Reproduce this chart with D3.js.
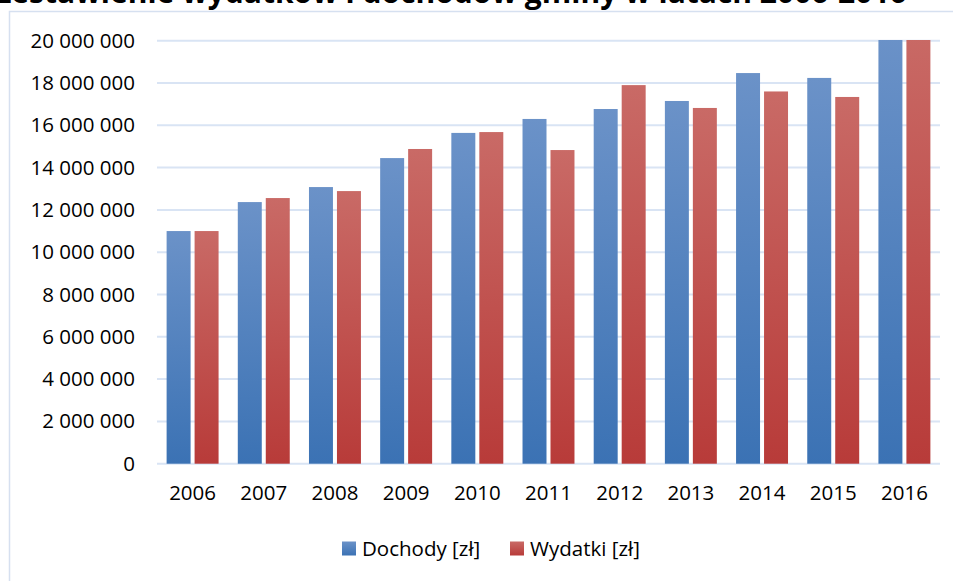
<!DOCTYPE html>
<html>
<head>
<meta charset="utf-8">
<script src="https://cdn.jsdelivr.net/npm/d3@7"></script>
<style>
  body { margin: 0; background: #fff; }
  svg { display: block; font-family: "Open Sans", sans-serif; }
</style>
</head>
<body>
<svg id="chart" width="953" height="581"></svg>
<script>
// chart data
const years = ["2006", "2007", "2008", "2009", "2010", "2011", "2012", "2013", "2014", "2015", "2016"];
const dochody = [11000000, 12370000, 13080000, 14450000, 15640000, 16300000, 16770000, 17150000, 18470000, 18240000, 20400000];
const wydatki = [11000000, 12560000, 12890000, 14880000, 15680000, 14830000, 17900000, 16820000, 17600000, 17340000, 20600000];
const seriesNames = ["Dochody [zł]", "Wydatki [zł]"];
const yTicks = [0, 2000000, 4000000, 6000000, 8000000, 10000000, 12000000, 14000000, 16000000, 18000000, 20000000];
const titleText = "Zestawienie wydatków i dochodów gminy w latach 2006-2016";

const svg = d3.select("#chart");
const W = 953, H = 581;
const plot = {left: 157, right: 940, top: 40.7, bottom: 463.7};

// light frame of the chart area
svg.append("path")
    .attr("d", `M9.5,${H + 2} V11.5 H${W + 2}`)
    .attr("fill", "none")
    .attr("stroke", "#d6e0f0")
    .attr("stroke-width", 1.5);

// title, cut off by the top of the picture
svg.append("text")
    .attr("x", -6)
    .attr("y", 2.5)
    .attr("font-size", 30)
    .attr("font-weight", "bold")
    .attr("fill", "#000")
    .text(titleText);

const x0 = d3.scaleBand().domain(years).range([plot.left, plot.right]).paddingInner(0.27).paddingOuter(0.135);
const x1 = d3.scaleBand().domain(seriesNames).range([0, x0.bandwidth()]).paddingInner(0.143);
const y = d3.scaleLinear().domain([0, 20000000]).range([plot.bottom, plot.top]);

const fmt = d3.formatLocale({decimal: ",", thousands: " ", grouping: [3], currency: ["", " zł"]}).format(",d");

// gridlines
svg.append("g")
    .selectAll("line")
    .data(yTicks)
    .join("line")
    .attr("x1", plot.left)
    .attr("x2", plot.right)
    .attr("y1", d => y(d))
    .attr("y2", d => y(d))
    .attr("stroke", "#d9e4f4")
    .attr("stroke-width", 2);

// y axis labels
const yAxis = svg.append("g")
    .attr("transform", `translate(135,0)`)
    .call(d3.axisLeft(y).tickValues(yTicks).tickFormat(fmt).tickSize(0).tickPadding(0));
yAxis.select(".domain").remove();
yAxis.selectAll("text").attr("font-size", 20.5).attr("fill", "#000").attr("font-family", "Open Sans");

// x axis labels
const xAxis = svg.append("g")
    .attr("transform", `translate(0,${plot.bottom})`)
    .call(d3.axisBottom(x0).tickSize(0).tickPadding(22));
xAxis.select(".domain").remove();
xAxis.selectAll("text").attr("font-size", 20.5).attr("fill", "#000").attr("font-family", "Open Sans");

// gradients
const defs = svg.append("defs");
const grads = [
    {id: "gBlue", top: "#6b92c8", bottom: "#3b72b4"},
    {id: "gRed", top: "#c96a66", bottom: "#b83b39"}
];
grads.forEach(g => {
    const lg = defs.append("linearGradient").attr("id", g.id).attr("x1", 0).attr("y1", 0).attr("x2", 0).attr("y2", 1);
    lg.append("stop").attr("offset", "0%").attr("stop-color", g.top);
    lg.append("stop").attr("offset", "100%").attr("stop-color", g.bottom);
});
defs.append("clipPath").attr("id", "plotClip")
    .append("rect")
    .attr("x", plot.left).attr("y", plot.top - 0.7)
    .attr("width", plot.right - plot.left).attr("height", plot.bottom - plot.top + 1);

const rows = years.map((yr, i) => ({year: yr, values: [dochody[i], wydatki[i]]}));
const fills = ["url(#gBlue)", "url(#gRed)"];

svg.append("g")
    .attr("clip-path", "url(#plotClip)")
    .selectAll("g")
    .data(rows)
    .join("g")
    .attr("transform", d => `translate(${x0(d.year)},0)`)
    .selectAll("rect")
    .data(d => d.values.map((v, k) => ({name: seriesNames[k], value: v, k: k})))
    .join("rect")
    .attr("x", d => x1(d.name))
    .attr("width", x1.bandwidth())
    .attr("y", d => y(d.value))
    .attr("height", d => plot.bottom - y(d.value))
    .attr("fill", d => fills[d.k]);

// legend
const legendItems = [
    {name: seriesNames[0], fill: fills[0], x: 342},
    {name: seriesNames[1], fill: fills[1], x: 510}
];
const leg = svg.append("g").selectAll("g").data(legendItems).join("g")
    .attr("transform", d => `translate(${d.x},541.5)`);
leg.append("rect").attr("width", 14).attr("height", 14).attr("fill", d => d.fill);
leg.append("text")
    .attr("x", 20)
    .attr("y", 7)
    .attr("dy", "0.35em")
    .attr("font-size", 20.5)
    .attr("fill", "#000")
    .text(d => d.name);
</script>
</body>
</html>
